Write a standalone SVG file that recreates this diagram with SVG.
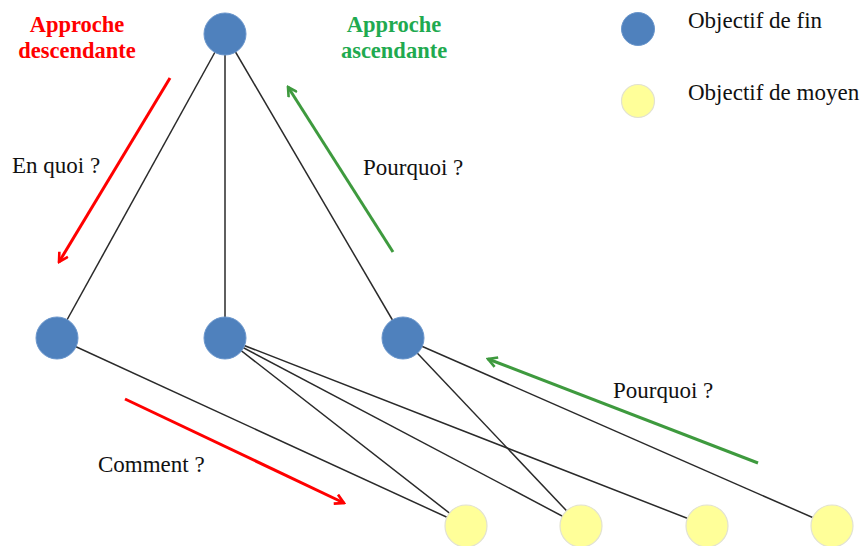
<svg xmlns="http://www.w3.org/2000/svg" width="862" height="546" viewBox="0 0 862 546">
<style>
.edge{stroke:#2a2a2a;stroke-width:1.5;fill:none}
.fin{fill:#4F81BD;stroke:#6A96CC;stroke-width:1}
.moy{fill:#FFFF99;stroke:#E2E2D0;stroke-width:1.2}
.lbl{font-family:"Liberation Serif",serif;font-size:23px;fill:#111}
.ttl{font-family:"Liberation Serif",serif;font-size:22.5px;font-weight:bold;text-anchor:middle}
.red{stroke:#FF0000;stroke-width:3;fill:none}
.grn{stroke:#3E9A3E;stroke-width:3;fill:none}
</style>
<defs>
<marker id="ar" viewBox="0 0 12 12" refX="10" refY="6" markerWidth="12" markerHeight="12" markerUnits="userSpaceOnUse" orient="auto"><polyline points="1,1 10,6 1,11" fill="none" stroke="#FF0000" stroke-width="2.6"/></marker>
<marker id="ag" viewBox="0 0 12 12" refX="10" refY="6" markerWidth="12" markerHeight="12" markerUnits="userSpaceOnUse" orient="auto"><polyline points="1,1 10,6 1,11" fill="none" stroke="#3E9A3E" stroke-width="2.6"/></marker>
</defs>
<rect width="862" height="546" fill="#fff"/>
<g id="connectors">
<line class="edge" x1="225" y1="34" x2="57" y2="338"/>
<line class="edge" x1="225" y1="34" x2="225" y2="338"/>
<line class="edge" x1="225" y1="34" x2="403" y2="338"/>
<line class="edge" x1="57" y1="338" x2="466" y2="526"/>
<line class="edge" x1="225" y1="338" x2="466" y2="526"/>
<line class="edge" x1="225" y1="338" x2="581" y2="526"/>
<line class="edge" x1="225" y1="338" x2="707" y2="526"/>
<line class="edge" x1="403" y1="338" x2="581" y2="526"/>
<line class="edge" x1="403" y1="338" x2="832" y2="526"/>
</g>
<g id="arrows">
<line class="red" x1="170" y1="78" x2="59" y2="262" marker-end="url(#ar)"/>
<line class="grn" x1="393" y1="252" x2="288" y2="87" marker-end="url(#ag)"/>
<line class="red" x1="125" y1="399" x2="344" y2="503" marker-end="url(#ar)"/>
<line class="grn" x1="758" y1="463" x2="488" y2="359" marker-end="url(#ag)"/>
</g>
<g id="n-top"><circle class="fin" cx="225" cy="34" r="21"/></g>
<g id="n-mid1"><circle class="fin" cx="57" cy="338" r="21"/></g>
<g id="n-mid2"><circle class="fin" cx="225" cy="338" r="21"/></g>
<g id="n-mid3"><circle class="fin" cx="403" cy="338" r="21"/></g>
<g id="n-bot1"><circle class="moy" cx="466" cy="526" r="21"/></g>
<g id="n-bot2"><circle class="moy" cx="581" cy="526" r="21"/></g>
<g id="n-bot3"><circle class="moy" cx="707" cy="526" r="21"/></g>
<g id="n-bot4"><circle class="moy" cx="832" cy="526" r="21"/></g>
<g id="legend">
<circle class="fin" cx="638" cy="29" r="16.5"/>
<circle class="moy" cx="638" cy="101" r="16.5"/>
<text class="lbl" x="688" y="28">Objectif de fin</text>
<text class="lbl" x="688" y="100">Objectif de moyen</text>
</g>
<g id="titles">
<text class="ttl" x="77" y="32" fill="#FF0000">Approche</text>
<text class="ttl" x="77" y="58" fill="#FF0000">descendante</text>
<text class="ttl" x="394" y="32" fill="#1FAA50">Approche</text>
<text class="ttl" x="394" y="58" fill="#1FAA50">ascendante</text>
</g>
<g id="labels">
<text class="lbl" x="12" y="173">En quoi ?</text>
<text class="lbl" x="363" y="175">Pourquoi ?</text>
<text class="lbl" x="98" y="472">Comment ?</text>
<text class="lbl" x="613" y="398">Pourquoi ?</text>
</g>
</svg>
